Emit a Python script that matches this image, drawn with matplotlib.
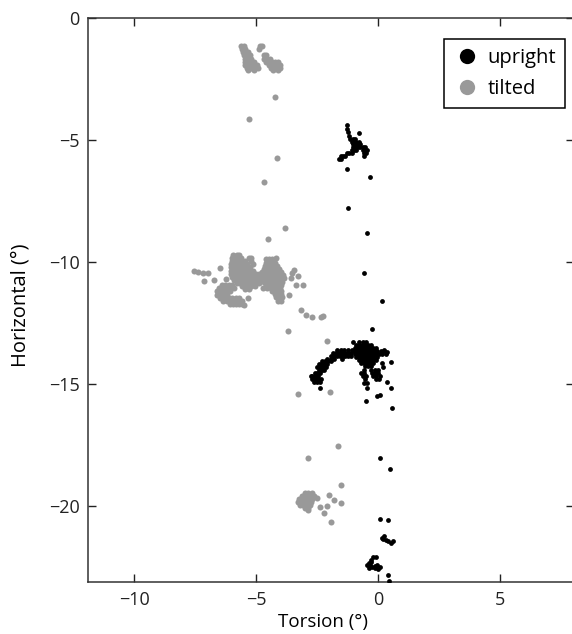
import numpy as np
import matplotlib
matplotlib.use("Agg")
import matplotlib.pyplot as plt
from matplotlib.lines import Line2D

plt.rcParams['font.family'] = ['Open Sans', 'DejaVu Sans']

# ---------------- data (Torsion x, Horizontal y, degrees) ----------------
# filled blobs given as rows: (y, [x values])
tilted_rows = [
    # top cluster
    (-1.15, [-5.62, -5.5, -4.85, -4.75]),
    (-1.28, [-5.6, -5.48, -4.9]),
    (-1.41, [-5.55, -5.43, -5.35]),
    (-1.54, [-5.5, -5.38, -5.26, -4.7, -4.6]),
    (-1.67, [-5.48, -5.36, -5.24, -4.7, -4.58, -4.46]),
    (-1.8, [-5.45, -5.33, -5.21, -5.09, -4.6, -4.48, -4.36, -4.24, -4.12]),
    (-1.93, [-5.45, -5.33, -5.21, -5.09, -4.97, -4.5, -4.38, -4.26, -4.14, -4.05]),
    (-2.06, [-5.4, -5.28, -5.16, -5.04, -4.92, -4.4, -4.28, -4.16, -4.05]),
    (-2.15, [-5.35, -5.1, -4.3, -4.1]),
    # big middle cluster, left lobe
    (-9.7, [-5.95, -5.8, -5.7]),
    (-9.83, [-6.0, -5.88, -5.75, -5.62, -5.3, -5.2]),
    (-9.96, [-6.0, -5.87, -5.74, -5.61, -5.48, -5.2]),
    (-10.1, [-6.02, -5.89, -5.76, -5.63, -5.5, -5.37, -5.15]),
    (-10.23, [-6.05, -5.92, -5.79, -5.66, -5.53, -5.4, -5.27]),
    (-10.36, [-6.05, -5.92, -5.79, -5.66, -5.53, -5.4, -5.27, -5.14]),
    (-10.49, [-6.05, -5.92, -5.79, -5.66, -5.53, -5.4, -5.27, -5.14, -5.01, -4.88]),
    (-10.62, [-5.98, -5.85, -5.72, -5.59, -5.46, -5.33, -5.2, -5.07, -4.94, -4.81]),
    (-10.75, [-5.9, -5.77, -5.64, -5.51, -5.38, -5.25, -5.12, -4.99, -4.86]),
    (-10.88, [-5.8, -5.67, -5.54, -5.41, -5.28, -5.15, -5.02, -4.89]),
    (-11.0, [-5.6, -5.47, -5.34, -5.2, -5.05]),
    (-11.13, [-5.45, -5.3]),
    # big middle cluster, right lobe
    (-9.9, [-4.6, -4.48, -4.35]),
    (-10.03, [-4.62, -4.5, -4.38, -4.25]),
    (-10.16, [-4.65, -4.52, -4.4, -4.28, -4.15]),
    (-10.29, [-4.7, -4.58, -4.45, -4.33, -4.2, -4.08]),
    (-10.42, [-4.75, -4.62, -4.5, -4.37, -4.25, -4.12, -4.0]),
    (-10.55, [-4.75, -4.62, -4.5, -4.37, -4.25, -4.12, -4.0, -3.9]),
    (-10.68, [-4.75, -4.62, -4.5, -4.37, -4.25, -4.12, -4.0, -3.88]),
    (-10.81, [-4.7, -4.57, -4.45, -4.32, -4.2, -4.08, -3.95]),
    (-10.94, [-4.6, -4.48, -4.35, -4.22, -4.1, -3.98]),
    (-11.07, [-4.55, -4.42, -4.3, -4.18, -4.05]),
    (-11.2, [-4.35, -4.22, -4.1, -3.97]),
    (-11.33, [-4.25, -4.12, -4.0]),
    (-11.46, [-4.2, -4.07, -3.95]),
    (-11.6, [-4.1, -3.98]),
    # crescent below-left
    (-10.95, [-6.4, -6.27, -6.14, -6.0]),
    (-11.08, [-6.55, -6.42, -6.29, -6.16, -6.03, -5.9]),
    (-11.21, [-6.62, -6.49, -6.36, -6.23, -6.1]),
    (-11.34, [-6.6, -6.47, -6.34, -6.21]),
    (-11.47, [-6.5, -6.37, -6.24, -6.11, -5.98, -5.85, -5.72]),
    (-11.6, [-6.35, -6.22, -6.09, -5.96, -5.83, -5.7, -5.57]),
    (-11.73, [-6.1, -5.97, -5.84, -5.71, -5.58]),
    # bottom cluster
    (-19.45, [-3.0, -2.87, -2.74]),
    (-19.58, [-3.15, -3.02, -2.89, -2.76, -2.63]),
    (-19.71, [-3.25, -3.12, -2.99, -2.86, -2.73]),
    (-19.84, [-3.3, -3.17, -3.04, -2.91, -2.78]),
    (-19.97, [-3.2, -3.07, -2.94, -2.81]),
    (-20.1, [-3.0, -2.87]),
]
tilted_x_single = [-4.24, -5.29, -4.16, -4.68, -3.84, -4.51, -4.2,
                   -7.54, -7.38, -7.2, -6.97, -6.49, -7.13, -6.72, -6.25,
                   -3.52, -3.31, -3.59, -3.38, -3.67, -3.18, -2.97, -2.7,
                   -2.36, -2.28, -5.5, -5.36, -3.45, -3.1, -4.74,
                   -3.7, -2.09, -3.31, -1.98,
                   -1.65, -2.9, -1.54, -2.5, -2.4, -2.02, -2.09, -1.82,
                   -1.54, -2.22, -2.9, -1.95]
tilted_y_single = [-3.23, -4.16, -5.73, -6.71, -8.62, -9.07, -9.84,
                   -10.36, -10.42, -10.46, -10.46, -10.26, -10.8, -10.74, -10.71,
                   -10.46, -10.6, -10.65, -10.94, -11.35, -11.97, -12.17, -12.24,
                   -12.24, -12.2, -11.76, -11.49, -10.35, -10.94, -11.08,
                   -12.85, -13.24, -15.42, -15.35,
                   -17.56, -18.04, -19.13, -19.67, -20.03, -19.54, -20.02, -19.74,
                   -19.9, -20.31, -20.18, -20.67]

upright_rows = [
    # top cluster
    (-4.95, [-1.15, -1.05, -0.95]),
    (-5.07, [-1.1, -1.0, -0.9, -0.8]),
    (-5.19, [-1.05, -0.95, -0.85, -0.75]),
    (-5.31, [-1.05, -0.95, -0.85, -0.75, -0.65, -0.55]),
    (-5.43, [-1.1, -1.0, -0.9, -0.65, -0.55, -0.45]),
    (-5.55, [-1.3, -1.2, -1.1, -0.6, -0.5]),
    (-5.67, [-1.55, -1.45, -1.35, -0.6]),
    (-5.78, [-1.62, -1.52]),
    # middle cluster, main blob
    (-13.3, [-0.8, -0.65, -0.5]),
    (-13.42, [-0.9, -0.78, -0.66, -0.54, -0.42, -0.3]),
    (-13.54, [-0.95, -0.83, -0.71, -0.59, -0.47, -0.35, -0.23, -0.1]),
    (-13.66, [-1.0, -0.88, -0.76, -0.64, -0.52, -0.4, -0.28, -0.16, -0.04, 0.1, 0.22]),
    (-13.78, [-0.95, -0.83, -0.71, -0.59, -0.47, -0.35, -0.23, -0.11, 0.01, 0.15, 0.3]),
    (-13.9, [-0.9, -0.78, -0.66, -0.54, -0.42, -0.3, -0.18, -0.06]),
    (-14.02, [-0.8, -0.68, -0.56, -0.44, -0.32, -0.2, -0.08]),
    (-14.14, [-0.7, -0.58, -0.46, -0.34, -0.22]),
    (-14.26, [-0.55, -0.43, -0.31]),
    # band and hook to the left
    (-13.62, [-1.7, -1.55, -1.4, -1.25, -1.1]),
    (-13.72, [-1.85, -1.73, -1.61, -1.49, -1.37, -1.25, -1.13]),
    (-13.85, [-1.95, -1.83, -1.71, -1.59, -1.47, -1.35, -1.23, -1.11]),
    (-13.98, [-2.1, -1.95, -1.8, -1.5]),
    (-14.07, [-2.3, -2.2, -2.08, -1.96]),
    (-14.19, [-2.45, -2.35, -2.23, -2.11]),
    (-14.31, [-2.5, -2.4, -2.28, -2.16]),
    (-14.43, [-2.45, -2.33, -2.21]),
    (-14.55, [-2.6, -2.5, -2.38]),
    (-14.67, [-2.75, -2.7, -2.58, -2.46]),
    (-14.79, [-2.72, -2.6, -2.48, -2.36]),
    (-14.91, [-2.65, -2.53, -2.41]),
    # lower right pieces
    (-14.45, [-0.6, -0.3, -0.15, 0.0]),
    (-14.57, [-0.7, -0.58, -0.25, -0.12, 0.0]),
    (-14.69, [-0.65, -0.5, -0.2, -0.08, 0.05]),
    (-14.81, [-0.55, -0.1, 0.02]),
    (-14.95, [-0.6, -0.45]),
]
upright_x_single = [-1.27, -1.29, -1.25, -1.2, -0.79,
                    -1.27, -0.34, -1.23, -0.45, -0.59, 0.16,
                    -0.25, -1.02, 0.5, 0.16, 0.37, 0.25, -0.48, 0.34, 0.5,
                    0.07, -0.07, -0.52, 0.57, -2.4, 0.2,
                    0.07, 0.47, 0.07, 0.39,
                    0.15, 0.25, 0.3, 0.38, 0.5, 0.6, 0.2,
                    -0.2, -0.08, -0.3, -0.4, -0.45, -0.35, -0.25, -0.12, 0.0,
                    0.05, -0.05, -0.3, -0.38, -0.15, 0.39, 0.43]
upright_y_single = [-4.39, -4.55, -4.7, -4.85, -4.71,
                    -6.19, -6.51, -7.8, -8.8, -10.44, -11.6,
                    -12.76, -13.3, -14.12, -14.15, -13.7, -13.6, -15.17, -14.94, -15.17,
                    -15.44, -15.51, -15.69, -15.99, -15.17, -14.3,
                    -18.04, -18.49, -20.53, -20.56,
                    -21.3, -21.25, -21.38, -21.45, -21.5, -21.45, -21.35,
                    -22.1, -22.08, -22.2, -22.32, -22.42, -22.4, -22.5, -22.55, -22.6,
                    -22.5, -22.4, -22.3, -22.55, -22.45, -22.81, -23.08]

series_names = ["upright", "tilted"]
x_ticks = [-10, -5, 0, 5]
y_ticks = [0, -5, -10, -15, -20]


def expand(rows, xs, ys):
    ox = [x for y, row in rows for x in row] + list(xs)
    oy = [y for y, row in rows for x in row] + list(ys)
    return np.array(ox), np.array(oy)


tx, ty = expand(tilted_rows, tilted_x_single, tilted_y_single)
ux, uy = expand(upright_rows, upright_x_single, upright_y_single)

fig = plt.figure(figsize=(5.72, 6.34), dpi=100)
ax = fig.add_axes([0.1538, 0.0815, 0.849, 0.8905])

gray = "#999999"
ax.scatter(tx, ty, s=19, c=gray, linewidths=0, zorder=2)
ax.scatter(ux, uy, s=12, c="black", linewidths=0, zorder=3)

ax.set_xlim(-11.9, 8)
ax.set_ylim(-23.13, 0)
ax.set_xticks(x_ticks)
ax.set_yticks(y_ticks)
ax.set_xticklabels(["\u2212%d" % -v if v < 0 else "%d" % v for v in x_ticks])
ax.set_yticklabels(["\u2212%d" % -v if v < 0 else "%d" % v for v in y_ticks])
ax.tick_params(direction="in", length=6, width=1, top=True, right=True,
               labelsize=13, colors="#222222", pad=6)
for sp in ax.spines.values():
    sp.set_linewidth(1.1)
    sp.set_color("#333333")

ax.set_xlabel("Torsion (\u00b0)", fontsize=13.5)
ax.set_ylabel("Horizontal (\u00b0)", fontsize=14.5)
ax.xaxis.set_label_coords(0.483, -0.054)
ax.yaxis.set_label_coords(-0.118, 0.49)

handles = [Line2D([], [], ls="none", marker="o", markersize=11, color="black",
                  markeredgewidth=0),
           Line2D([], [], ls="none", marker="o", markersize=11, color=gray,
                  markeredgewidth=0)]
leg = ax.legend(handles, series_names, loc="upper right",
                bbox_to_anchor=(0.982, 0.962), borderaxespad=0,
                fancybox=False, framealpha=1, edgecolor="black",
                fontsize=14.5, handletextpad=0.3, handlelength=1.4,
                labelspacing=0.55, borderpad=0.45)
leg.get_frame().set_linewidth(1.1)

fig.savefig("out.png", dpi=100)
